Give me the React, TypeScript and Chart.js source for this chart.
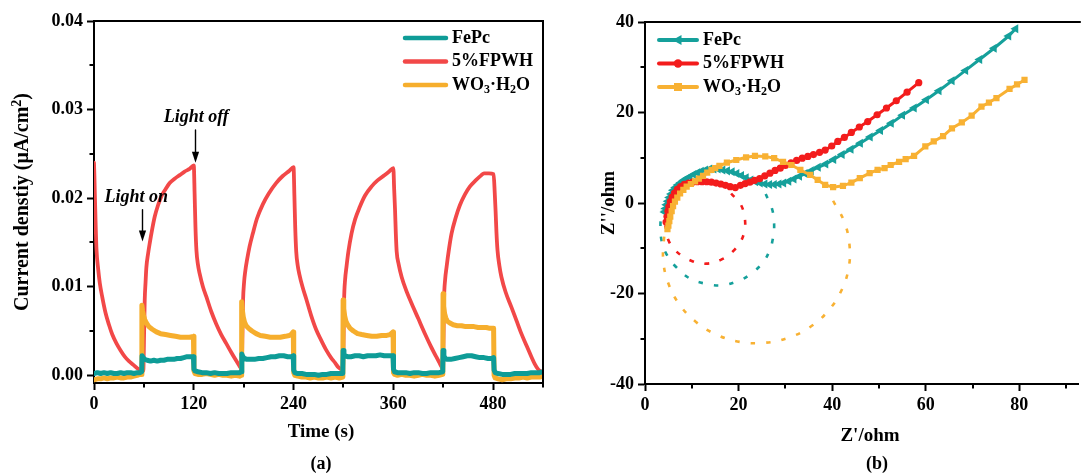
import React, { useEffect, useRef } from "react";
import { Chart, registerables } from "chart.js";

Chart.register(...registerables);

const FAMILY = '"Liberation Serif", "Times New Roman", Times, serif';

// ---------------- Panel (a): photocurrent vs time ----------------
const timeTicks = [0, 120, 240, 360, 480];
const timeMinorTicks = [60, 180, 300, 420, 540];
const currentTicks = [0, 0.01, 0.02, 0.03, 0.04];
const currentMinorTicks = [0.005, 0.015, 0.025, 0.035];

// [time (s), current density]
const fepcCurrent: number[][] = [
  [0, 0.0002], [4, 0.0003], [8, 0.0002], [12, 0.0003], [16, 0.0002], [20, 0.0003], [24, 0.0002], [28, 0.0002],
  [32, 0.0003], [36, 0.0002], [40, 0.0003], [44, 0.0003], [48, 0.0002], [52, 0.0003], [55, 0.0003], [57.4, 0.0004],
  [57.8, 0.0022], [59, 0.002], [61, 0.0018], [64, 0.0017], [68, 0.0016], [72, 0.0017], [76, 0.0016], [80, 0.0017],
  [84, 0.0017], [88, 0.0018], [92, 0.0018], [96, 0.0018], [100, 0.0019], [104, 0.0019], [108, 0.002], [112, 0.0021],
  [116, 0.0021], [119.6, 0.0021],
  [120.2, 0.0007], [121.5, 0.0005], [125, 0.0004], [130, 0.0003], [135, 0.0003], [140, 0.0002], [145, 0.0003],
  [150, 0.0002], [155, 0.0002], [160, 0.0002], [165, 0.0003], [170, 0.0003], [175, 0.0003], [177.4, 0.0004],
  [177.8, 0.0024], [179, 0.0021], [181, 0.0019], [184, 0.0018], [188, 0.0018], [193, 0.0018], [198, 0.0019],
  [203, 0.0019], [208, 0.002], [213, 0.0021], [218, 0.0021], [223, 0.0022], [228, 0.0022], [233, 0.0021],
  [237, 0.0021], [239.6, 0.0022],
  [240.2, 0.0006], [241.5, 0.0003], [245, 0.0002], [250, 0.0002], [255, 0.0001], [260, 0.0001], [265, 0.0001],
  [270, 0.0], [275, 0.0001], [280, 0.0001], [285, 0.0002], [290, 0.0002], [295, 0.0002], [299.2, 0.0002],
  [299.6, 0.0028], [300.6, 0.0024], [302, 0.0022], [305, 0.0021], [309, 0.0021], [314, 0.0022], [319, 0.0022],
  [324, 0.0021], [329, 0.0022], [334, 0.0022], [339, 0.0022], [344, 0.0023], [349, 0.0022], [354, 0.0022],
  [359.6, 0.0022],
  [360.2, 0.0007], [361.5, 0.0004], [365, 0.0003], [370, 0.0003], [375, 0.0003], [380, 0.0002], [385, 0.0003],
  [390, 0.0003], [395, 0.0002], [400, 0.0002], [405, 0.0003], [410, 0.0003], [415, 0.0003], [419.4, 0.0004],
  [419.8, 0.0028], [420.8, 0.0022], [422.5, 0.0019], [425, 0.0018], [429, 0.0018], [434, 0.0019], [439, 0.002],
  [444, 0.0021], [449, 0.0022], [454, 0.0022], [459, 0.0021], [464, 0.002], [469, 0.002], [474, 0.0019],
  [478, 0.0019], [480.6, 0.002],
  [481.2, 0.0006], [482.5, 0.0003], [486, 0.0002], [491, 0.0001], [496, 0.0001], [501, 0.0001], [506, 0.0002],
  [511, 0.0002], [516, 0.0002], [521, 0.0002], [526, 0.0003], [531, 0.0003], [536, 0.0003], [540, 0.0004],
];

const fpwhCurrent: number[][] = [
  [0, 0.024], [0.5, 0.0225], [1, 0.0205], [2, 0.017], [3, 0.0142], [5, 0.012], [7, 0.0104], [10, 0.0088],
  [14, 0.007], [18, 0.0057], [22, 0.0046], [27, 0.0036], [32, 0.0028], [37, 0.0021], [42, 0.0016], [47, 0.0012],
  [52, 0.0008], [56, 0.0006], [59.3, 0.0005],
  [60.2, 0.0045], [61, 0.0085], [62, 0.0105], [63, 0.0122], [65, 0.0137], [67, 0.0149], [70, 0.0165], [73, 0.0179],
  [77, 0.0192], [81, 0.0202], [86, 0.021], [91, 0.0217], [97, 0.0222], [103, 0.0226], [109, 0.023], [115, 0.0233],
  [120, 0.0237],
  [121, 0.0205], [122, 0.0168], [123.2, 0.0141], [125, 0.0125], [127, 0.0115], [131, 0.01], [135, 0.0089],
  [141, 0.0072], [147, 0.0058], [153, 0.0046], [159, 0.0036], [165, 0.0026], [170, 0.0018], [174, 0.0012],
  [177.6, 0.0007],
  [178.5, 0.0045], [179.3, 0.0085], [180.5, 0.0105], [182, 0.0118], [184, 0.013], [187, 0.0145], [191, 0.016],
  [196, 0.0177], [203, 0.0193], [210, 0.0205], [219, 0.0217], [227, 0.0225], [235, 0.0231], [240, 0.0235],
  [241, 0.0203], [242, 0.0167], [243.2, 0.014], [245, 0.0124], [247, 0.0114], [251, 0.0099], [255, 0.0087],
  [261, 0.0068], [267, 0.0052], [273, 0.004], [279, 0.0029], [285, 0.002], [290, 0.0014], [294, 0.0009],
  [299.4, 0.0006],
  [300.2, 0.0045], [300.8, 0.0085], [302, 0.0108], [303.6, 0.0122], [306, 0.014], [309.7, 0.016], [314, 0.0176],
  [319.6, 0.019], [326, 0.0203], [333.7, 0.0213], [341, 0.022], [349.7, 0.0226], [355, 0.023], [360, 0.0234],
  [361, 0.021], [362, 0.0188], [363, 0.016], [364, 0.014], [366.5, 0.0125], [370, 0.0111], [375, 0.0097],
  [382, 0.0081], [390, 0.0064], [398, 0.0047], [405, 0.0033], [411, 0.0022], [415, 0.0015], [419.6, 0.0008],
  [420.4, 0.0045], [421, 0.0085], [422.3, 0.0108], [424, 0.0122], [427, 0.0143], [430, 0.016], [435, 0.0178],
  [440, 0.0192], [446, 0.0204], [452, 0.0213], [459, 0.022], [466, 0.0226], [469, 0.0228], [475, 0.0228],
  [480.6, 0.0227],
  [482, 0.0205], [483, 0.0185], [484, 0.0162], [485.3, 0.0141], [487.5, 0.0124], [490, 0.0111], [495, 0.0094],
  [502, 0.0077], [508, 0.0062], [514, 0.0047], [520, 0.0034], [526, 0.0021], [530, 0.0013], [534, 0.0007],
  [538, 0.0004],
];

const wo3Current: number[][] = [
  [0, -0.0005], [4, -0.0004], [8, -0.0004], [12, -0.0003], [16, -0.0004], [20, -0.0003], [24, -0.0003],
  [28, -0.0002], [32, -0.0003], [36, -0.0003], [40, -0.0002], [44, -0.0002], [48, -0.0001], [52, 0.0],
  [55, 0.0001], [57.3, 0.0001],
  [57.6, 0.0079], [58.4, 0.0073], [59.5, 0.0068], [61, 0.0063], [63, 0.0059], [66, 0.0055], [70, 0.0052],
  [75, 0.0049], [80, 0.0047], [86, 0.0046], [92, 0.0045], [98, 0.0044], [104, 0.0043], [110, 0.0043],
  [115, 0.0043], [119.6, 0.0044],
  [120.2, 0.0005], [121.5, 0.0002], [125, 0.0001], [130, 0.0001], [135, 0.0002], [140, 0.0001], [145, 0.0],
  [150, 0.0001], [155, 0.0], [160, 0.0], [165, -0.0001], [170, 0.0], [175, -0.0001], [177.3, 0.0],
  [177.6, 0.0083], [178.4, 0.0074], [179.5, 0.0066], [181, 0.006], [183, 0.0056], [186, 0.0053], [190, 0.005],
  [195, 0.0047], [200, 0.0045], [206, 0.0044], [212, 0.0043], [218, 0.0043], [224, 0.0043], [230, 0.0044],
  [235, 0.0045], [238, 0.0047], [239.7, 0.0049],
  [240.2, 0.0003], [241.5, 0.0], [245, -0.0001], [250, -0.0002], [255, -0.0002], [260, -0.0003], [265, -0.0002],
  [270, -0.0003], [275, -0.0003], [280, -0.0002], [285, -0.0003], [290, -0.0002], [295, -0.0003], [299.3, -0.0002],
  [299.6, 0.0085], [300.4, 0.0075], [301.5, 0.0067], [303, 0.0061], [305, 0.0057], [308, 0.0053], [312, 0.005],
  [317, 0.0047], [322, 0.0046], [328, 0.0045], [334, 0.0044], [340, 0.0044], [346, 0.0045], [352, 0.0045],
  [356, 0.0046], [359.7, 0.0049],
  [360.2, 0.0003], [361.5, 0.0001], [365, 0.0], [370, 0.0001], [375, 0.0], [380, 0.0], [385, -0.0001],
  [390, 0.0], [395, 0.0001], [400, 0.0], [405, 0.0], [410, -0.0001], [415, 0.0], [419.5, 0.0001],
  [419.8, 0.0092], [420.6, 0.0078], [421.6, 0.007], [423, 0.0065], [425, 0.0061], [428, 0.0059], [432, 0.0057],
  [437, 0.0056], [442, 0.0056], [447, 0.0055], [452, 0.0055], [457, 0.0055], [462, 0.0054], [467, 0.0054],
  [472, 0.0054], [476, 0.0053], [480.6, 0.0053],
  [481.2, 0.0], [482.5, -0.0003], [486, -0.0004], [491, -0.0005], [496, -0.0004], [501, -0.0004], [506, -0.0003],
  [511, -0.0003], [516, -0.0002], [521, -0.0003], [526, -0.0002], [531, -0.0002], [536, -0.0002], [540, -0.0001],
];

// annotation anchors (data units)
const lightOnTime = 57.4;
const lightOnArrow = [0.0187, 0.0151];
const lightOnLabel = [50.8, 0.0196];
const lightOffTime = 121.4;
const lightOffArrow = [0.0277, 0.024];
const lightOffLabel = [123.0, 0.0286];

// ---------------- Panel (b): Nyquist plot ----------------
const zreTicks = [0, 20, 40, 60, 80];
const zreMinorTicks = [10, 30, 50, 70, 90];
const zimTicks = [-40, -20, 0, 20, 40];
const zimMinorTicks = [-30, -10, 10, 30];

// [Z' (ohm), Z'' (ohm)]
const fepcNyquist: number[][] = [
  [4.2, -2.0], [4.4, -1.2], [4.6, -0.4], [4.9, 0.4], [5.2, 1.2], [5.6, 2.0], [6.0, 2.8], [6.5, 3.4], [7.0, 4.0],
  [7.6, 4.5], [8.2, 5.0], [8.9, 5.4], [9.6, 5.8], [10.4, 6.3], [11.2, 6.7], [12.0, 7.0], [12.9, 7.3], [13.8, 7.5],
  [14.7, 7.5], [15.6, 7.5], [16.6, 7.3], [17.6, 7.1], [18.6, 6.9], [19.6, 6.5], [20.6, 6.1], [21.6, 5.6],
  [22.6, 5.1], [23.6, 4.7], [24.6, 4.4], [25.6, 4.2], [26.6, 4.1], [27.6, 4.1], [28.6, 4.2], [29.6, 4.4],
  [30.7, 4.8], [31.8, 5.3], [33.0, 5.9], [34.2, 6.5], [35.5, 7.1], [37.0, 7.9], [38.6, 8.6], [40.3, 9.6],
  [42.1, 10.7], [44.0, 11.9], [46.0, 13.2], [48.1, 14.6], [50.3, 16.0], [52.6, 17.6], [55.0, 19.4], [57.5, 21.0],
  [60.1, 22.8], [62.8, 24.8], [65.6, 27.0], [68.5, 29.3], [71.5, 31.7], [74.6, 34.2], [77.7, 36.9], [79.2, 38.5],
];

const fpwhNyquist: number[][] = [
  [4.5, -4.2], [4.7, -3.0], [4.9, -1.8], [5.1, -0.8], [5.4, 0.3], [5.8, 1.3], [6.3, 2.2], [6.9, 3.0], [7.6, 3.6],
  [8.4, 4.1], [9.3, 4.4], [10.2, 4.6], [11.2, 4.7], [12.2, 4.7], [13.2, 4.7], [14.2, 4.6], [15.2, 4.4],
  [16.2, 4.2], [17.2, 3.9], [18.2, 3.6], [19.3, 3.4], [20.4, 3.9], [21.4, 4.3], [22.4, 4.6], [23.4, 5.0],
  [24.5, 5.4], [25.6, 6.0], [26.7, 6.6], [27.8, 7.2], [28.9, 7.7], [30.0, 8.3], [31.2, 8.9], [32.4, 9.4],
  [33.6, 9.9], [34.8, 10.3], [36.0, 10.7], [37.3, 11.2], [38.5, 11.7], [39.9, 12.6], [41.2, 13.6], [42.6, 14.5],
  [44.1, 15.6], [45.8, 16.8], [47.6, 18.0], [49.6, 19.5], [51.6, 21.0], [53.7, 22.6], [56.0, 24.5], [58.5, 26.6],
];

const wo3Nyquist: number[][] = [
  [4.8, -5.8], [5.0, -5.0], [5.2, -4.0], [5.4, -3.0], [5.7, -1.8], [6.0, -0.7], [6.4, 0.3], [6.9, 1.2], [7.5, 2.1],
  [8.2, 2.9], [8.9, 3.6], [9.8, 4.2], [10.7, 4.8], [11.5, 5.4], [12.4, 6.0], [13.3, 6.7], [14.2, 7.3], [15.0, 7.7],
  [15.9, 8.2], [17.5, 8.9], [19.5, 9.5], [21.6, 10.1], [23.5, 10.4], [25.7, 10.3], [27.6, 9.9], [29.5, 9.1],
  [31.3, 8.4], [33.2, 7.3], [35.3, 6.2], [36.9, 5.1], [38.5, 4.0], [40.2, 3.5], [42.3, 3.8], [44.1, 4.5],
  [45.9, 5.5], [48.0, 6.6], [49.7, 7.3], [51.2, 7.7], [52.5, 8.4], [54.3, 9.1], [55.7, 9.7], [57.5, 10.4],
  [59.9, 12.5], [61.7, 13.6], [63.7, 14.8], [65.6, 16.5], [67.7, 17.8], [69.8, 19.3], [71.9, 21.3], [73.5, 22.2],
  [75.1, 23.2], [77.9, 25.2], [79.5, 26.2], [81.1, 27.2],
];

// fitted semicircle arcs (dotted)
const fepcFit: number[][] = [
  [25.8, 2.0], [27.2, -1.5], [27.6, -5.0], [27.3, -8.0], [26.6, -10.6], [25.0, -13.4], [22.3, -15.9], [19.5, -17.4],
  [16.3, -18.2], [12.8, -17.8], [9.6, -16.7], [6.7, -14.2], [4.7, -11.5], [3.6, -8.6], [3.3, -4.9], [3.6, -1.5],
];
const fpwhFit: number[][] = [
  [18.4, 2.1], [20.5, -0.4], [21.4, -4.1], [20.9, -7.5], [18.9, -10.6], [16.3, -12.5], [13.1, -13.4],
  [10.0, -12.8], [6.8, -10.8], [5.0, -8.2], [4.3, -4.9],
];
const wo3Fit: number[][] = [
  [40.2, 0.5], [42.6, -4.2], [43.7, -9.3], [43.5, -14.5], [41.9, -19.5], [39.1, -23.9], [35.3, -27.4],
  [30.6, -29.8], [25.5, -30.9], [20.3, -30.7], [15.3, -29.1], [10.9, -26.3], [7.4, -22.5], [5.0, -17.8],
  [3.9, -12.7], [4.1, -7.5], [4.5, -5.8],
];

// ---------------- styling ----------------
const TEAL_A = "#0E9C97";
const RED_A = "#F24848";
const ORANGE_A = "#F6AE2D";
const TEAL_B = "#15A09B";
const RED_B = "#F31C1C";
const ORANGE_B = "#F8B133";

type Seg = { t: string; sub?: boolean; sup?: boolean };
const NAME_FEPC: Seg[] = [{ t: "FePc" }];
const NAME_FPWH: Seg[] = [{ t: "5%FPWH" }];
const NAME_WO3: Seg[] = [{ t: "WO" }, { t: "3", sub: true }, { t: "·H" }, { t: "2", sub: true }, { t: "O" }];

const pairs = (arr: number[][]) => arr.map(([x, y]) => ({ x, y }));

function drawRich(ctx: CanvasRenderingContext2D, segs: Seg[], x: number, y: number, size: number, align: "left" | "center", style = "bold") {
  const main = `${style} ${size}px ${FAMILY}`;
  const small = `${style} ${Math.round(size * 0.68)}px ${FAMILY}`;
  const widths = segs.map((s) => {
    ctx.font = s.sub || s.sup ? small : main;
    return ctx.measureText(s.t).width;
  });
  const total = widths.reduce((a, b) => a + b, 0);
  let cx = align === "center" ? x - total / 2 : x;
  ctx.textAlign = "left";
  ctx.textBaseline = "middle";
  segs.forEach((s, i) => {
    ctx.font = s.sub || s.sup ? small : main;
    const dy = s.sub ? size * 0.28 : s.sup ? -size * 0.3 : 0;
    ctx.fillText(s.t, cx, y + dy);
    cx += widths[i];
  });
}

function drawMinorTicks(chart: any, xs: number[], ys: number[]) {
  const { ctx, chartArea: ca, scales } = chart;
  ctx.save();
  ctx.strokeStyle = "#000";
  ctx.lineWidth = 2;
  ctx.beginPath();
  xs.forEach((v) => {
    const p = Math.round(scales.x.getPixelForValue(v));
    ctx.moveTo(p, ca.bottom);
    ctx.lineTo(p, ca.bottom + 4.5);
  });
  ys.forEach((v) => {
    const p = Math.round(scales.y.getPixelForValue(v));
    ctx.moveTo(ca.left, p);
    ctx.lineTo(ca.left - 4.5, p);
  });
  ctx.stroke();
  ctx.restore();
}

function drawArrow(ctx: CanvasRenderingContext2D, x: number, y1: number, y2: number) {
  const head = 11;
  ctx.strokeStyle = "#000";
  ctx.fillStyle = "#000";
  ctx.lineWidth = 1.4;
  ctx.beginPath();
  ctx.moveTo(x, y1);
  ctx.lineTo(x, y2 - head + 1);
  ctx.stroke();
  ctx.beginPath();
  ctx.moveTo(x, y2);
  ctx.lineTo(x - 3.6, y2 - head);
  ctx.lineTo(x + 3.6, y2 - head);
  ctx.closePath();
  ctx.fill();
}

const tickFont = { family: FAMILY, size: 18, weight: "bold" as const };

function axis(min: number, max: number, ticks: number[], fit: (s: any) => void, fmt: (v: number) => string) {
  return {
    type: "linear" as const,
    min,
    max,
    afterBuildTicks: (s: any) => {
      s.ticks = ticks.map((value) => ({ value }));
    },
    afterFit: fit,
    ticks: {
      font: tickFont,
      color: "#000",
      padding: 4,
      maxRotation: 0,
      autoSkip: false,
      callback: (v: any) => fmt(Number(v)),
    },
    grid: { drawOnChartArea: false, drawTicks: true, tickLength: 7, tickWidth: 2, tickColor: "#000" },
    border: { display: true, color: "#000", width: 2 },
  };
}

function makeConfigA(): any {
  const panelA = {
    id: "panelA",
    afterDraw(chart: any) {
      const { ctx, chartArea: ca, scales } = chart;
      const x = scales.x;
      const y = scales.y;
      // frame (top & right)
      ctx.save();
      ctx.strokeStyle = "#000";
      ctx.lineWidth = 2;
      ctx.beginPath();
      ctx.moveTo(ca.left, ca.top);
      ctx.lineTo(ca.right, ca.top);
      ctx.lineTo(ca.right, ca.bottom);
      ctx.stroke();
      ctx.restore();
      drawMinorTicks(chart, timeMinorTicks, currentMinorTicks);

      ctx.save();
      // legend
      const items: [string, Seg[]][] = [
        [TEAL_A, NAME_FEPC],
        [RED_A, NAME_FPWH],
        [ORANGE_A, NAME_WO3],
      ];
      const rowY = [38, 61.5, 85];
      items.forEach(([c, name], i) => {
        ctx.strokeStyle = c;
        ctx.lineWidth = 4.5;
        ctx.lineCap = "round";
        ctx.beginPath();
        ctx.moveTo(405, rowY[i]);
        ctx.lineTo(446, rowY[i]);
        ctx.stroke();
        ctx.fillStyle = "#000";
        drawRich(ctx, name, 452, rowY[i], 18, "left");
      });

      // annotations
      ctx.fillStyle = "#000";
      ctx.font = `italic bold 18px ${FAMILY}`;
      ctx.textAlign = "center";
      ctx.textBaseline = "alphabetic";
      ctx.fillText("Light on", x.getPixelForValue(lightOnLabel[0]), y.getPixelForValue(lightOnLabel[1]));
      ctx.fillText("Light off", x.getPixelForValue(lightOffLabel[0]), y.getPixelForValue(lightOffLabel[1]));
      drawArrow(ctx, Math.round(x.getPixelForValue(lightOnTime)) + 0.5, y.getPixelForValue(lightOnArrow[0]), y.getPixelForValue(lightOnArrow[1]));
      drawArrow(ctx, Math.round(x.getPixelForValue(lightOffTime)) + 0.5, y.getPixelForValue(lightOffArrow[0]), y.getPixelForValue(lightOffArrow[1]));

      // titles
      ctx.fillStyle = "#000";
      drawRich(ctx, [{ t: "Time (s)" }], 321, 432, 19, "center");
      drawRich(ctx, [{ t: "(a)" }], 321, 464, 18, "center");
      ctx.save();
      ctx.translate(23, 202);
      ctx.rotate(-Math.PI / 2);
      drawRich(ctx, [{ t: "Current denstiy (μA/cm" }, { t: "2", sup: true }, { t: ")" }], 0, 0, 20, "center");
      ctx.restore();
      ctx.restore();
    },
  };

  return {
    type: "line",
    data: {
      datasets: [
        { label: "FePc", data: pairs(fepcCurrent), borderColor: TEAL_A, borderWidth: 5, tension: 0 },
        { label: "WO3·H2O", data: pairs(wo3Current), borderColor: ORANGE_A, borderWidth: 5, tension: 0 },
        { label: "5%FPWH", data: pairs(fpwhCurrent), borderColor: RED_A, borderWidth: 3.8, cubicInterpolationMode: "monotone" },
      ],
    },
    options: {
      responsive: false,
      animation: false,
      events: [],
      layout: { padding: { top: 21, right: 17, left: 0, bottom: 0 } },
      elements: { point: { radius: 0 }, line: { borderJoinStyle: "round", borderCapStyle: "round" } },
      plugins: { legend: { display: false }, tooltip: { enabled: false } },
      scales: {
        x: axis(0, 540, timeTicks, (s: any) => { s.height = 90; }, (v) => String(v)),
        y: axis(-0.00087, 0.04, currentTicks, (s: any) => { s.width = 94; }, (v) => v.toFixed(2)),
      },
    },
    plugins: [panelA],
  };
}

function makeConfigB(): any {
  const panelB = {
    id: "panelB",
    afterDraw(chart: any) {
      const { ctx, chartArea: ca } = chart;
      ctx.save();
      ctx.strokeStyle = "#000";
      ctx.lineWidth = 2;
      ctx.beginPath();
      ctx.moveTo(ca.left, ca.top);
      ctx.lineTo(ca.right + 2, ca.top);
      ctx.stroke();
      ctx.restore();
      drawMinorTicks(chart, zreMinorTicks, zimMinorTicks);

      ctx.save();
      const items: [string, Seg[], string][] = [
        [TEAL_B, NAME_FEPC, "tri"],
        [RED_B, NAME_FPWH, "circle"],
        [ORANGE_B, NAME_WO3, "rect"],
      ];
      const rowY = [40, 63.5, 87];
      items.forEach(([c, name, m], i) => {
        const yy = rowY[i];
        ctx.strokeStyle = c;
        ctx.fillStyle = c;
        ctx.lineWidth = 4;
        ctx.lineCap = "round";
        ctx.beginPath();
        ctx.moveTo(99, yy);
        ctx.lineTo(137, yy);
        ctx.stroke();
        const cx = 118;
        ctx.beginPath();
        if (m === "tri") {
          ctx.moveTo(cx - 5.5, yy);
          ctx.lineTo(cx + 3.5, yy - 5);
          ctx.lineTo(cx + 3.5, yy + 5);
          ctx.closePath();
        } else if (m === "circle") {
          ctx.arc(cx, yy, 4.2, 0, Math.PI * 2);
        } else {
          ctx.rect(cx - 4, yy - 4, 8, 8);
        }
        ctx.fill();
        ctx.fillStyle = "#000";
        drawRich(ctx, name, 143, yy, 18, "left");
      });

      ctx.fillStyle = "#000";
      drawRich(ctx, [{ t: "Z'/ohm" }], 310, 436, 19, "center");
      drawRich(ctx, [{ t: "(b)" }], 317, 464, 18, "center");
      ctx.save();
      ctx.translate(49, 203);
      ctx.rotate(-Math.PI / 2);
      drawRich(ctx, [{ t: "Z''/ohm" }], 0, 0, 19, "center");
      ctx.restore();
      ctx.restore();
    },
  };

  const fit = (data: number[][], color: string) => ({
    data: pairs(data),
    borderColor: color,
    borderWidth: 2.6,
    borderDash: [4.5, 11],
    borderCapStyle: "butt",
    pointRadius: 0,
    tension: 0.4,
  });

  return {
    type: "line",
    data: {
      datasets: [
        {
          label: "WO3·H2O", data: pairs(wo3Nyquist), borderColor: ORANGE_B, backgroundColor: ORANGE_B,
          borderWidth: 3, pointStyle: "rect", pointRadius: 4.4, pointBorderWidth: 0, tension: 0,
        },
        {
          label: "5%FPWH", data: pairs(fpwhNyquist), borderColor: RED_B, backgroundColor: RED_B,
          borderWidth: 3, pointStyle: "circle", pointRadius: 3.6, pointBorderWidth: 0, tension: 0,
        },
        {
          label: "FePc", data: pairs(fepcNyquist), borderColor: TEAL_B, backgroundColor: TEAL_B,
          borderWidth: 3, pointStyle: "triangle", rotation: -90, pointRadius: 5.2, pointBorderWidth: 0, tension: 0,
        },
        { label: "fit WO3", ...fit(wo3Fit, ORANGE_B) },
        { label: "fit FPWH", ...fit(fpwhFit, RED_B) },
        { label: "fit FePc", ...fit(fepcFit, TEAL_B) },
      ],
    },
    options: {
      responsive: false,
      animation: false,
      events: [],
      layout: { padding: { top: 22, right: 0, left: 0, bottom: 0 } },
      plugins: { legend: { display: false }, tooltip: { enabled: false } },
      scales: {
        x: axis(0, 92.7, zreTicks, (s: any) => { s.height = 89; }, (v) => String(v)),
        y: axis(-40, 40, zimTicks, (s: any) => { s.width = 85; }, (v) => String(v)),
      },
    },
    plugins: [panelB],
  };
}

function Panel({ make, left, width }: { make: () => any; left: number; width: number }) {
  const ref = useRef<HTMLCanvasElement>(null);
  useEffect(() => {
    const chart = new Chart(ref.current as HTMLCanvasElement, make());
    return () => chart.destroy();
  }, []);
  return (
    <canvas
      ref={ref}
      width={width}
      height={473}
      style={{ position: "absolute", left, top: 0, width, height: 473, display: "block" }}
    />
  );
}

export default function App() {
  return (
    <div style={{ position: "absolute", left: 0, top: 0, width: 1084, height: 473, overflow: "hidden", background: "#fff" }}>
      <Panel make={makeConfigA} left={0} width={560} />
      <Panel make={makeConfigB} left={560} width={524} />
    </div>
  );
}
